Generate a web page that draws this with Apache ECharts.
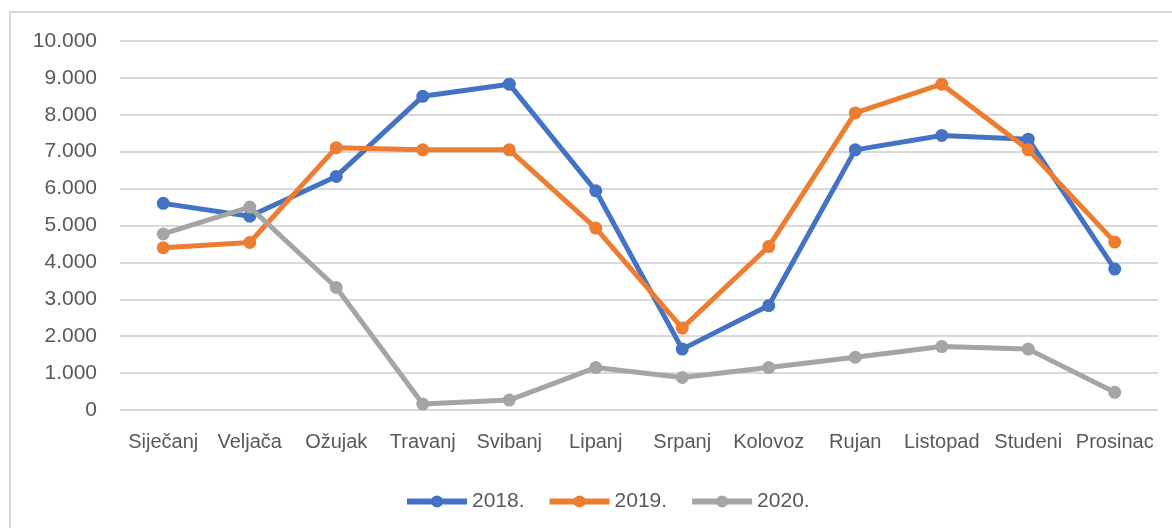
<!DOCTYPE html>
<html>
<head>
<meta charset="utf-8">
<script src="https://cdn.jsdelivr.net/npm/echarts@6/dist/echarts.min.js"></script>
<style>html,body{margin:0;padding:0;background:#fff}#c{width:1172px;height:528px}</style>
</head>
<body>
<div id="c"></div>
<script>
const categories = ['Siječanj','Veljača','Ožujak','Travanj','Svibanj','Lipanj','Srpanj','Kolovoz','Rujan','Listopad','Studeni','Prosinac'];
const s2018 = [5600, 5250, 6330, 8500, 8830, 5940, 1650, 2830, 7050, 7440, 7340, 3820];
const s2019 = [4400, 4540, 7110, 7050, 7050, 4930, 2220, 4430, 8050, 8830, 7050, 4550];
const s2020 = [4770, 5500, 3320, 160, 270, 1150, 880, 1150, 1430, 1720, 1650, 480];
const seriesNames = ['2018.', '2019.', '2020.'];
const colors = ['#4472C4', '#ED7D31', '#A5A5A5'];

const font = "'Liberation Sans', Arial, sans-serif";
const textColor = '#595959';
function fmt(v){ return String(v).replace(/\B(?=(\d{3})+(?!\d))/g, '.'); }

const chart = echarts.init(document.getElementById('c'), null, {renderer:'canvas'});
const mk = (name, data, color, z) => ({
  name, type:'line', data, z,
  symbol:'circle', symbolSize:13, showSymbol:true,
  lineStyle:{width:5, color},
  itemStyle:{color},
  emphasis:{disabled:true},
  animation:false
});
chart.setOption({
  animation:false,
  color: colors,
  graphic:[{type:'rect', shape:{x:10,y:12,width:1300,height:700}, style:{fill:'none', stroke:'#d9d9d9', lineWidth:2}, silent:true}],
  grid:{left:120, right:14, top:41, bottom:118, containLabel:false},
  xAxis:{
    type:'category', data:categories, boundaryGap:true,
    axisLine:{show:false}, axisTick:{show:false},
    axisLabel:{interval:0, color:textColor, fontFamily:font, fontSize:20, margin:22}
  },
  yAxis:{
    type:'value', min:0, max:10000, interval:1000,
    axisLine:{show:false}, axisTick:{show:false},
    splitLine:{lineStyle:{color:'#d9d9d9', width:2}},
    axisLabel:{color:textColor, fontFamily:font, fontSize:21, margin:23, formatter:fmt}
  },
  legend:{
    bottom:11, left:399, itemWidth:60, itemHeight:15, itemGap:22,
    lineStyle:{width:6},
    textStyle:{color:textColor, fontFamily:font, fontSize:21},
    data:seriesNames
  },
  series:[
    mk(seriesNames[0], s2018, colors[0], 2),
    mk(seriesNames[1], s2019, colors[1], 3),
    mk(seriesNames[2], s2020, colors[2], 4)
  ]
});
</script>
</body>
</html>
